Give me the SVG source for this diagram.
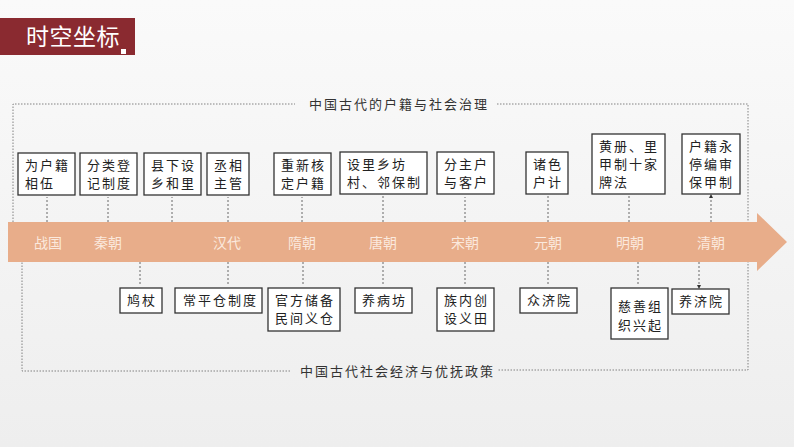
<svg xmlns="http://www.w3.org/2000/svg" width="794" height="447" viewBox="0 0 794 447">
<defs>
<style>
.bx{fill:#fff;stroke:#333;stroke-width:1.3}
.t{font-family:"Liberation Sans","Noto Sans CJK SC",sans-serif;font-size:13px;fill:#222;letter-spacing:2px}
.era{font-family:"Liberation Serif","Noto Sans CJK SC",serif;font-size:14px;fill:#fbe9dd}
.d{stroke:#444;stroke-width:0.8;stroke-dasharray:2 2;fill:none}
.fr{stroke:#666;stroke-width:0.8;stroke-dasharray:1.5 1.5;fill:none}
.cap{font-family:"Liberation Sans","Noto Sans CJK SC",sans-serif;font-size:13px;fill:#333;letter-spacing:2px}
</style>
<marker id="ah" markerWidth="4" markerHeight="4" refX="2" refY="2" orient="auto" markerUnits="userSpaceOnUse"><path d="M0,0L4,2L0,4z" fill="#333"/></marker>
<linearGradient id="bg" x1="0" y1="0" x2="0" y2="1"><stop offset="0" stop-color="#fafafa"/><stop offset="1" stop-color="#eeeeee"/></linearGradient>
</defs>
<rect width="794" height="447" fill="url(#bg)"/>
<g id="title">
<rect x="0" y="18" width="135" height="37" fill="#8a2a30"/>
<text x="26" y="45" font-family="Liberation Sans,Noto Sans CJK SC,sans-serif" font-size="23" letter-spacing="0.5" fill="#fff">时空坐标</text>
<rect x="121" y="49" width="5" height="5" fill="#fff"/>
</g>
<g id="frames">
<path class="fr" d="M13,222V104H295M497,104H748V370H497M290,371H22V262"/>
<text class="cap" x="309" y="109">中国古代的户籍与社会治理</text>
<text class="cap" x="300" y="376">中国古代社会经济与优抚政策</text>
</g>
<g id="timeline">
<path d="M8,222H757V213L787,242L757,271V262H8z" fill="#e8ad8a"/>
<text class="era" x="34" y="248">战国</text>
<text class="era" x="94" y="248">秦朝</text>
<text class="era" x="213" y="248">汉代</text>
<text class="era" x="288" y="248">隋朝</text>
<text class="era" x="369" y="248">唐朝</text>
<text class="era" x="451" y="248">宋朝</text>
<text class="era" x="534" y="248">元朝</text>
<text class="era" x="616" y="248">明朝</text>
<text class="era" x="697" y="248">清朝</text>
</g>
<g id="connectors">
<path class="d" marker-end="url(#ah)" d="M47,222V197M108,222V197M172,222V197M228,222V197M302,222V197M383,222V196M465,222V197M548,222V196M629,222V196M711,222V196"/>
<path class="d" marker-end="url(#ah)" d="M140,262V286M228,262V286M303,262V286M383,262V286M465,262V286M548,262V286M638,262V286M699,262V287"/>
</g>
<g id="n1"><rect class="bx" x="18" y="153" width="57" height="42"/><text class="t" x="25" y="170">为户籍</text><text class="t" x="25" y="188">相伍</text></g>
<g id="n2"><rect class="bx" x="80" y="153" width="57" height="42"/><text class="t" x="87" y="170">分类登</text><text class="t" x="87" y="188">记制度</text></g>
<g id="n3"><rect class="bx" x="144" y="153" width="57" height="42"/><text class="t" x="151" y="170">县下设</text><text class="t" x="151" y="188">乡和里</text></g>
<g id="n4"><rect class="bx" x="207" y="153" width="42" height="42"/><text class="t" x="214" y="170">丞相</text><text class="t" x="214" y="188">主管</text></g>
<g id="n5"><rect class="bx" x="274" y="153" width="57" height="42"/><text class="t" x="281" y="170">重新核</text><text class="t" x="281" y="188">定户籍</text></g>
<g id="n6"><rect class="bx" x="340" y="152" width="87" height="42"/><text class="t" x="347" y="169">设里乡坊</text><text class="t" x="347" y="187">村、邻保制</text></g>
<g id="n7"><rect class="bx" x="437" y="152" width="57" height="42"/><text class="t" x="444" y="169">分主户</text><text class="t" x="444" y="187">与客户</text></g>
<g id="n8"><rect class="bx" x="526" y="152" width="42" height="42"/><text class="t" x="533" y="169">诸色</text><text class="t" x="533" y="187">户计</text></g>
<g id="n9"><rect class="bx" x="592" y="134" width="73" height="60"/><text class="t" x="599" y="151">黄册、里</text><text class="t" x="599" y="169">甲制十家</text><text class="t" x="599" y="187">牌法</text></g>
<g id="n10"><rect class="bx" x="682" y="134" width="58" height="60"/><text class="t" x="689" y="151">户籍永</text><text class="t" x="689" y="169">停编审</text><text class="t" x="689" y="187">保甲制</text></g>
<g id="b1"><rect class="bx" x="120" y="288" width="42" height="25"/><text class="t" x="127" y="305">鸠杖</text></g>
<g id="b2"><rect class="bx" x="175" y="288" width="87" height="25"/><text class="t" x="183" y="305">常平仓制度</text></g>
<g id="b3"><rect class="bx" x="268" y="288" width="72" height="43"/><text class="t" x="275" y="305">官方储备</text><text class="t" x="275" y="323">民间义仓</text></g>
<g id="b4"><rect class="bx" x="355" y="288" width="57" height="25"/><text class="t" x="362" y="305">养病坊</text></g>
<g id="b5"><rect class="bx" x="437" y="288" width="57" height="43"/><text class="t" x="444" y="305">族内创</text><text class="t" x="444" y="323">设义田</text></g>
<g id="b6"><rect class="bx" x="520" y="288" width="57" height="25"/><text class="t" x="527" y="305">众济院</text></g>
<g id="b7"><rect class="bx" x="611" y="288" width="57" height="51"/><text class="t" x="618" y="311">慈善组</text><text class="t" x="618" y="330">织兴起</text></g>
<g id="b8"><rect class="bx" x="672" y="289" width="57" height="25"/><text class="t" x="679" y="306">养济院</text></g>
</svg>
